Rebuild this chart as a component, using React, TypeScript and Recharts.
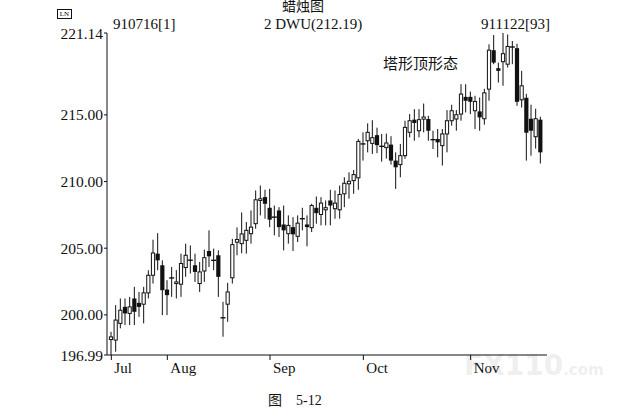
import React from "react";
import { ComposedChart, Bar, XAxis, YAxis } from "recharts";

// trading days 1..93 (1991-07-16 .. 1991-11-22)
const OPEN = [
  198.15, 198.11, 199.36, 200.6, 200.11, 201.23, 200.9, 200.8, 201.65, 202.97,
  204.59, 203.72, 201.9, 202.77, 202.35, 202.3, 203.55, 204.1, 203.72, 202.35,
  203.29, 204.79, 204.09, 204.47, 199.78, 200.8, 202.78, 205.45, 205.34, 205.59,
  206.09, 206.84, 208.58, 208.83, 208.03, 207.33, 207.83, 206.78, 206.09, 206.58,
  205.89, 207.21, 206.78, 206.54, 208.03, 207.53, 207.88, 208.58, 207.96, 207.88,
  209.08, 209.83, 210.07, 210.28, 212.82, 213.06, 212.86, 213.48, 212.64, 212.54,
  212.77, 211.57, 211.27, 211.94, 213.69, 214.64, 213.81, 214.68, 214.69, 213.14,
  213.19, 212.69, 213.57, 214.56, 214.69, 215.06, 216.35, 216.35, 215.31, 215.26,
  214.71, 216.93, 219.85, 218.5, 218.99, 218.8, 220.09, 220.0, 216.13, 216.28,
  214.71, 213.36, 214.64,
];
const HIGH = [
  198.73, 200.73, 201.23, 201.23, 201.35, 202.1, 201.72, 202.1, 203.35, 205.64,
  206.13, 204.09, 202.6, 203.59, 203.35, 204.59, 205.34, 205.21, 204.59, 203.97,
  204.89, 206.34, 204.97, 204.84, 200.98, 202.4, 205.7, 206.56, 207.68, 206.96,
  207.83, 209.33, 209.7, 209.38, 209.45, 208.2, 208.08, 208.2, 207.46, 207.33,
  207.46, 208.03, 207.46, 208.33, 208.88, 208.83, 208.58, 209.38, 209.33, 209.7,
  210.32, 210.69, 210.87, 213.19, 213.69, 214.36, 214.6, 214.04, 213.57, 213.59,
  213.4, 212.19, 212.82, 214.56, 215.06, 215.43, 215.43, 215.85, 214.93, 213.81,
  213.94, 213.94, 215.36, 215.76, 215.36, 217.3, 217.3, 216.75, 216.43, 216.3,
  216.95, 220.29, 220.99, 218.92, 221.14, 221.03, 220.54, 220.34, 218.3, 216.58,
  215.76, 215.46, 214.86,
];
const LOW = [
  196.99, 197.24, 198.99, 199.23, 199.23, 199.23, 199.85, 199.36, 201.23, 202.35,
  203.35, 199.98, 199.98, 201.35, 201.23, 201.35, 202.85, 203.1, 202.47, 201.72,
  202.47, 203.59, 203.35, 201.35, 198.36, 199.48, 202.35, 204.47, 204.62, 204.59,
  205.34, 206.46, 207.46, 207.21, 206.58, 205.96, 205.84, 204.84, 205.34, 204.79,
  205.46, 206.34, 205.14, 206.21, 206.84, 206.71, 206.71, 206.71, 207.21, 207.21,
  208.08, 208.71, 209.08, 209.38, 211.57, 212.19, 212.07, 212.13, 211.49, 211.72,
  211.27, 209.45, 210.32, 211.7, 213.31, 213.06, 213.31, 213.69, 213.06, 212.44,
  211.82, 211.2, 212.19, 214.19, 213.81, 214.56, 215.18, 215.06, 213.94, 213.81,
  214.26, 216.06, 218.8, 217.42, 217.18, 218.55, 218.8, 215.68, 215.55, 211.57,
  211.94, 212.47, 211.35,
];
const CLOSE = [
  198.35, 199.61, 200.35, 200.11, 200.6, 200.23, 200.6, 201.65, 202.97, 204.64,
  204.09, 201.85, 201.48, 202.77, 202.47, 203.85, 204.47, 204.1, 203.22, 203.22,
  204.29, 204.39, 204.09, 202.85, 199.78, 201.72, 205.27, 205.65, 206.07, 206.34,
  206.58, 208.63, 208.71, 208.33, 207.14, 207.33, 206.58, 206.34, 206.71, 206.04,
  206.88, 207.21, 206.58, 208.2, 207.63, 208.38, 208.04, 208.2, 208.38, 209.03,
  209.87, 210.02, 210.52, 213.01, 212.82, 213.69, 213.29, 212.73, 212.64, 212.89,
  211.57, 211.07, 211.94, 214.06, 214.56, 214.39, 214.64, 214.84, 213.81, 213.14,
  212.94, 213.57, 214.56, 215.31, 215.01, 216.56, 216.06, 215.98, 216.0, 214.81,
  216.65, 219.85, 218.92, 218.3, 219.59, 220.13, 220.09, 215.98, 217.18, 213.66,
  213.81, 214.71, 212.19,
];

const MONTH_TICKS = [1, 13, 35, 55, 78];
const MONTH_LABELS = ["Jul", "Aug", "Sep", "Oct", "Nov"];
const PRICE_TICKS = [196.99, 200, 205, 210, 215, 221.14];

const SERIF = "'Liberation Serif', 'Times New Roman', 'Noto Sans CJK SC', serif";

const rows = OPEN.map((open, i) => ({
  day: i + 1,
  open,
  high: HIGH[i],
  low: LOW[i],
  close: CLOSE[i],
  range: [LOW[i], HIGH[i]],
}));

function Candle(props: any) {
  const { x, y, width, height, payload } = props;
  if (x == null || y == null || !payload) return null;
  const { open, close, high, low } = payload;
  const top = Math.min(y, y + height);
  const bottom = Math.max(y, y + height);
  const span = high - low;
  const toY = (v: number) => (span === 0 ? top : top + ((high - v) / span) * (bottom - top));
  const cx = x + width / 2;
  const yo = toY(open);
  const yc = toY(close);
  const bodyTop = Math.min(yo, yc);
  const bodyH = Math.abs(yc - yo);

  let body;
  if (bodyH < 0.8) {
    body = <line x1={cx - 2.5} x2={cx + 2.5} y1={yo} y2={yo} stroke="#111" strokeWidth={1.4} />;
  } else if (close >= open) {
    body = (
      <rect x={cx - 1.6} y={bodyTop} width={3.2} height={bodyH} fill="#fff" stroke="#111" strokeWidth={1} />
    );
  } else {
    body = <rect x={cx - 2.1} y={bodyTop} width={4.2} height={bodyH} fill="#111" />;
  }
  return (
    <g>
      <line x1={cx} x2={cx} y1={top} y2={bottom} stroke="#111" strokeWidth={1} />
      {body}
    </g>
  );
}

function MonthTick(props: any) {
  const { x, y, payload } = props;
  const idx = MONTH_TICKS.indexOf(payload.value);
  return (
    <g>
      <line x1={x} x2={x} y1={y} y2={y + 5} stroke="#111" />
      <text x={x + 3} y={y + 18} fontSize={15} fontFamily={SERIF} fill="#111">
        {MONTH_LABELS[idx]}
      </text>
    </g>
  );
}

const label = (left: number, top: number, size = 15): React.CSSProperties => ({
  position: "absolute",
  left,
  top,
  fontSize: size,
  lineHeight: 1,
  fontFamily: SERIF,
  color: "#111",
  whiteSpace: "pre",
});

export default function App() {
  return (
    <div style={{ position: "absolute", left: 0, top: 0, width: 617, height: 417, background: "#fff" }}>
      <div
        style={{
          position: "absolute",
          left: 464,
          top: 352,
          fontSize: 28,
          fontWeight: 700,
          fontFamily: "'DejaVu Sans', sans-serif",
          color: "rgba(200,200,200,0.3)",
          lineHeight: 1,
          whiteSpace: "nowrap",
        }}
      >
        FX110<span style={{ fontSize: 15 }}>.com</span>
      </div>
      <ComposedChart
        width={617}
        height={417}
        data={rows}
        margin={{ top: 33, right: 70, bottom: 32, left: 0 }}
        style={{ position: "absolute", left: 0, top: 0 }}
      >
        <XAxis
          dataKey="day"
          type="category"
          ticks={MONTH_TICKS}
          interval={0}
          tick={<MonthTick />}
          tickLine={false}
          tickSize={0}
          tickMargin={0}
          height={30}
          padding={{ left: 2, right: 4 }}
          axisLine={{ stroke: "#111" }}
        />
        <YAxis
          domain={[196.99, 221.14]}
          ticks={PRICE_TICKS}
          interval={0}
          width={107}
          tickSize={3}
          tickMargin={1}
          tickFormatter={(v: number) => v.toFixed(2)}
          tick={{ fill: "#111", fontSize: 15.5, fontFamily: SERIF }}
          tickLine={{ stroke: "#111" }}
          axisLine={{ stroke: "#111" }}
        />
        <Bar dataKey="range" barSize={4} shape={(p: any) => <Candle {...p} />} isAnimationActive={false} />
      </ComposedChart>

      <div style={label(282, 0, 14)}>蜡烛图</div>
      <div
        style={{
          position: "absolute",
          left: 57,
          top: 9,
          width: 13,
          height: 8,
          border: "1px solid #111",
          fontSize: 7,
          lineHeight: "8px",
          textAlign: "center",
          fontFamily: SERIF,
        }}
      >
        LN
      </div>
      <div style={label(113, 17)}>910716[1]</div>
      <div style={label(264, 17)}>2 DWU(212.19)</div>
      <div style={label(481, 17)}>911122[93]</div>
      <div style={label(383, 57)}>塔形顶形态</div>
      <div style={label(268, 394, 14)}>{"图    5-12"}</div>
    </div>
  );
}
